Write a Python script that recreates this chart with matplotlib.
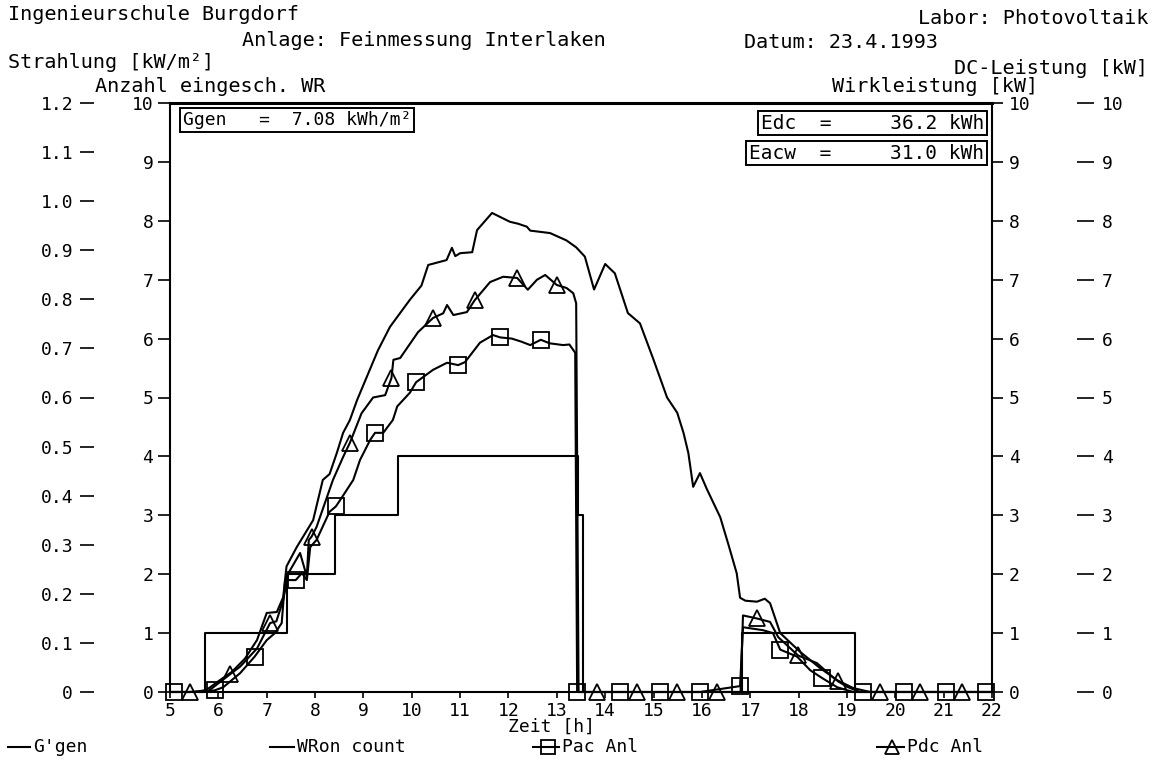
import matplotlib.pyplot as plt
from matplotlib.lines import Line2D

# Feinmessung Interlaken, 23.4.1993
ggen_hours = [
    5.0, 5.5, 5.75, 6.03, 6.28, 6.55, 6.8, 7.0, 7.21, 7.34, 7.41, 7.62,
    7.75, 7.96, 8.16, 8.3, 8.45, 8.58, 8.72, 8.87, 9.07, 9.3, 9.55, 9.96,
    10.2, 10.34, 10.72, 10.83, 10.9, 11.0, 11.25, 11.35, 11.66, 12.03,
    12.2, 12.38, 12.45, 12.86, 13.2, 13.4, 13.58, 13.77, 14.0, 14.2,
    14.47, 14.72, 15.0, 15.28, 15.49, 15.62, 15.72, 15.82, 15.96, 16.1,
    16.38, 16.55, 16.72, 16.79, 16.9, 17.14, 17.3, 17.41, 17.62, 18.03,
    18.44, 18.8, 19.13, 19.48, 22.0,
]
ggen_kw_m2 = [
    0.0, 0.0, 0.004, 0.024, 0.041, 0.068, 0.106, 0.161, 0.163, 0.193,
    0.256, 0.295, 0.316, 0.350, 0.432, 0.444, 0.487, 0.528, 0.554, 0.595,
    0.642, 0.696, 0.744, 0.799, 0.828, 0.870, 0.880, 0.905, 0.888, 0.894,
    0.896, 0.941, 0.976, 0.958, 0.954, 0.948, 0.940, 0.935, 0.920, 0.906,
    0.887, 0.820, 0.872, 0.853, 0.772, 0.751, 0.677, 0.600, 0.569, 0.528,
    0.487, 0.418, 0.446, 0.414, 0.356, 0.300, 0.242, 0.192, 0.186, 0.184,
    0.190, 0.181, 0.120, 0.082, 0.049, 0.024, 0.008, 0.0, 0.0,
]

pdc_hours = [
    5.0, 5.41, 5.8, 6.24, 6.45, 6.8, 7.07, 7.2, 7.34, 7.45, 7.69, 7.83,
    7.87, 7.93, 8.03, 8.37, 8.58, 8.72, 8.96, 9.2, 9.45, 9.58, 9.62, 9.76,
    10.13, 10.44, 10.65, 10.73, 10.86, 11.14, 11.3, 11.62, 11.89, 12.18,
    12.4, 12.59, 12.76, 13.0, 13.2, 13.34, 13.4, 13.45, 13.83, 14.66,
    15.49, 16.32, 16.8, 16.85, 17.13, 17.41, 17.58, 17.99, 18.38, 18.71,
    18.82, 19.0, 19.27, 19.68, 20.51, 21.38, 22.0,
]
pdc_kw = [
    0.0, 0.0, 0.02, 0.3, 0.43, 0.74, 1.17, 1.2, 1.56, 2.02, 2.36, 1.96,
    2.58, 2.64, 2.8, 3.6, 3.99, 4.23, 4.73, 5.0, 5.04, 5.33, 5.64, 5.67,
    6.11, 6.35, 6.43, 6.57, 6.4, 6.45, 6.65, 6.96, 7.05, 7.03,
    6.83, 7.0, 7.08, 6.91, 6.86, 6.77, 6.6, 0.0, 0.0, 0.0,
    0.0, 0.0, 0.0, 1.3, 1.25, 1.19, 0.93, 0.62, 0.49, 0.25,
    0.18, 0.09, 0.0, 0.0, 0.0, 0.0, 0.0,
]
pdc_marker_hours = [
    5.41, 6.24, 7.07, 7.93, 8.72, 9.58, 10.44, 11.3, 12.18, 13.0, 13.83,
    14.66, 15.49, 16.32, 17.13, 17.99, 18.82, 19.68, 20.51, 21.38,
]

pac_hours = [
    5.0, 5.08, 5.7, 5.93, 6.1, 6.45, 6.75, 7.0, 7.17, 7.31, 7.38, 7.6,
    7.73, 7.83, 7.9, 8.03, 8.3, 8.43, 8.52, 8.79, 8.93, 9.14, 9.24, 9.41,
    9.61, 9.7, 9.96, 10.09, 10.44, 10.73, 10.96, 11.1, 11.41, 11.68,
    11.83, 12.07, 12.26, 12.45, 12.67, 12.85, 13.13, 13.26, 13.38, 13.42,
    14.31, 15.14, 15.96, 16.79, 16.85, 17.26, 17.47, 17.62, 17.97, 18.24,
    18.48, 18.8, 19.13, 19.33, 20.18, 21.05, 21.88, 22.0,
]
pac_kw = [
    0.0, 0.0, 0.0, 0.03, 0.08, 0.32, 0.6, 0.88, 1.0, 1.17, 1.9, 1.9,
    2.02, 1.9, 2.46, 2.58, 3.06, 3.15, 3.26, 3.6, 3.94, 4.28, 4.4, 4.4,
    4.62, 4.85, 5.08, 5.26, 5.47, 5.59, 5.55, 5.6, 5.93, 6.06,
    6.02, 6.0, 5.95, 5.89, 5.98, 5.92, 5.89, 5.9, 5.76, 0.0,
    0.0, 0.0, 0.0, 0.1, 1.1, 1.05, 1.0, 0.72, 0.6, 0.37,
    0.24, 0.08, 0.0, 0.0, 0.0, 0.0, 0.0, 0.0,
]
pac_marker_hours = [
    5.08, 5.93, 6.75, 7.6, 8.43, 9.24, 10.09, 10.96, 11.83, 12.67, 13.42,
    14.31, 15.14, 15.96, 16.79, 17.62, 18.48, 19.33, 20.18, 21.05, 21.88,
]

wr_hours = [5.0, 5.72, 7.42, 8.41, 9.72, 13.44, 13.54, 16.83, 19.17, 22.0]
wr_count = [0, 1, 2, 3, 4, 3, 0, 1, 0, 0]

hour_ticks = list(range(5, 23))
count_ticks = list(range(0, 11))
strahlung_ticks = [0.0, 0.1, 0.2, 0.3, 0.4, 0.5, 0.6, 0.7, 0.8, 0.9, 1.0, 1.1, 1.2]
power_ticks = list(range(0, 11))

ggen_text = "Ggen   =  7.08 kWh/m²"
edc_text = "Edc  =     36.2 kWh"
eacw_text = "Eacw  =     31.0 kWh"

W, H = 1161, 763
AX_LEFT, AX_RIGHT, AX_TOP, AX_BOTTOM = 170, 992, 103, 692
LW = 1.5
HEADER_SIZE = 14.5


def fx(px):
    return px / W


def fy(py):
    return 1 - py / H


def ax_frac(px):
    return (px - AX_LEFT) / (AX_RIGHT - AX_LEFT)


def hide_spines(axis):
    for spine in axis.spines.values():
        spine.set_visible(False)


plt.rcParams["font.family"] = ["DejaVu Sans Mono", "DejaVu Sans"]
plt.rcParams["font.size"] = 13

fig = plt.figure(figsize=(W / 100, H / 100), dpi=100)
ax = fig.add_axes([
    fx(AX_LEFT),
    fy(AX_BOTTOM),
    fx(AX_RIGHT - AX_LEFT),
    (AX_BOTTOM - AX_TOP) / H,
])

# inverter count (inner left scale)
ax.plot(wr_hours, wr_count, drawstyle="steps-post", color="black", linewidth=LW)
ax.set_xlim(5, 22)
ax.set_ylim(0, 10)
ax.set_xticks(hour_ticks)
ax.set_yticks(count_ticks)
ax.tick_params(axis="y", direction="out", length=9, pad=3, width=1.2)
ax.tick_params(axis="x", direction="out", length=4, pad=3, width=1.2)
for spine in ax.spines.values():
    spine.set_linewidth(LW)
ax.spines["top"].set_linewidth(2.2)

# irradiance (outer left scale)
ax_g = ax.twinx()
hide_spines(ax_g)
ax_g.yaxis.tick_left()
ax_g.spines["left"].set_position(("axes", ax_frac(80)))
ax_g.plot(ggen_hours, ggen_kw_m2, color="black", linewidth=LW)
ax_g.set_ylim(0, 1.2)
ax_g.set_yticks(strahlung_ticks)
ax_g.set_yticklabels(["0" if v == 0 else f"{v:.1f}" for v in strahlung_ticks])
ax_g.tick_params(axis="y", direction="in", length=10, pad=5, width=1.2)

# power (inner right scale)
ax_p = ax.twinx()
hide_spines(ax_p)
ax_p.set_ylim(0, 10)
ax_p.set_yticks(power_ticks)
ax_p.tick_params(axis="y", direction="out", length=8, pad=4, width=1.2)
ax_p.plot(
    pac_hours, pac_kw, color="black", linewidth=LW,
    marker="s", markersize=11, markerfacecolor="none", markeredgewidth=1.3,
    markevery=[pac_hours.index(h) for h in pac_marker_hours], clip_on=False,
)
ax_p.plot(
    pdc_hours, pdc_kw, color="black", linewidth=LW,
    marker="^", markersize=11, markerfacecolor="none", markeredgewidth=1.3,
    markevery=[pdc_hours.index(h) for h in pdc_marker_hours], clip_on=False,
)

# DC power (outer right scale)
ax_o = ax.twinx()
hide_spines(ax_o)
ax_o.spines["right"].set_position(("axes", ax_frac(1077)))
ax_o.set_ylim(0, 10)
ax_o.set_yticks(power_ticks)
ax_o.tick_params(axis="y", direction="out", length=12, pad=6, width=1.2)

box = dict(boxstyle="square,pad=0.15", facecolor="white", edgecolor="black", linewidth=1.4)
ax_o.text(ax_frac(183), 0.971, ggen_text, transform=ax.transAxes,
          ha="left", va="center", bbox=box)
ax_o.text(ax_frac(984), 0.966, edc_text, transform=ax.transAxes,
          ha="right", va="center", fontsize=14, bbox=box)
ax_o.text(ax_frac(984), 0.915, eacw_text, transform=ax.transAxes,
          ha="right", va="center", fontsize=14, bbox=box)

# sheet header: (x, y, alignment, text) in plotter pixel positions
header = [
    (8, 14, "left", "Ingenieurschule Burgdorf"),
    (1148, 18, "right", "Labor: Photovoltaik"),
    (424, 40, "center", "Anlage: Feinmessung Interlaken"),
    (841, 42, "center", "Datum: 23.4.1993"),
    (8, 62, "left", "Strahlung [kW/m²]"),
    (1148, 68, "right", "DC-Leistung [kW]"),
    (210, 86, "center", "Anzahl eingesch. WR"),
    (935, 87, "center", "Wirkleistung [kW]"),
]
for x, y, align, label in header:
    fig.text(fx(x), fy(y), label, ha=align, va="center", fontsize=HEADER_SIZE)
fig.text(fx(551), fy(727), "Zeit [h]", ha="center", va="center")

# legend row
legend_items = [
    (8, 33, None, "G'gen"),
    (270, 297, None, "WRon count"),
    (533, 562, "s", "Pac Anl"),
    (877, 907, "^", "Pdc Anl"),
]
for x0, x_text, mk, label in legend_items:
    fig.add_artist(Line2D(
        [fx(x0), fx(x_text - 3)], [fy(747), fy(747)],
        transform=fig.transFigure, color="black", linewidth=LW,
    ))
    if mk is not None:
        fig.add_artist(Line2D(
            [fx((x0 + x_text) / 2)], [fy(747)], transform=fig.transFigure,
            marker=mk, markersize=10, markerfacecolor="none",
            markeredgecolor="black", markeredgewidth=1.3, linestyle="none",
        ))
    fig.text(fx(x_text), fy(747), label, ha="left", va="center")

fig.savefig("out.png", dpi=100)
plt.close(fig)
